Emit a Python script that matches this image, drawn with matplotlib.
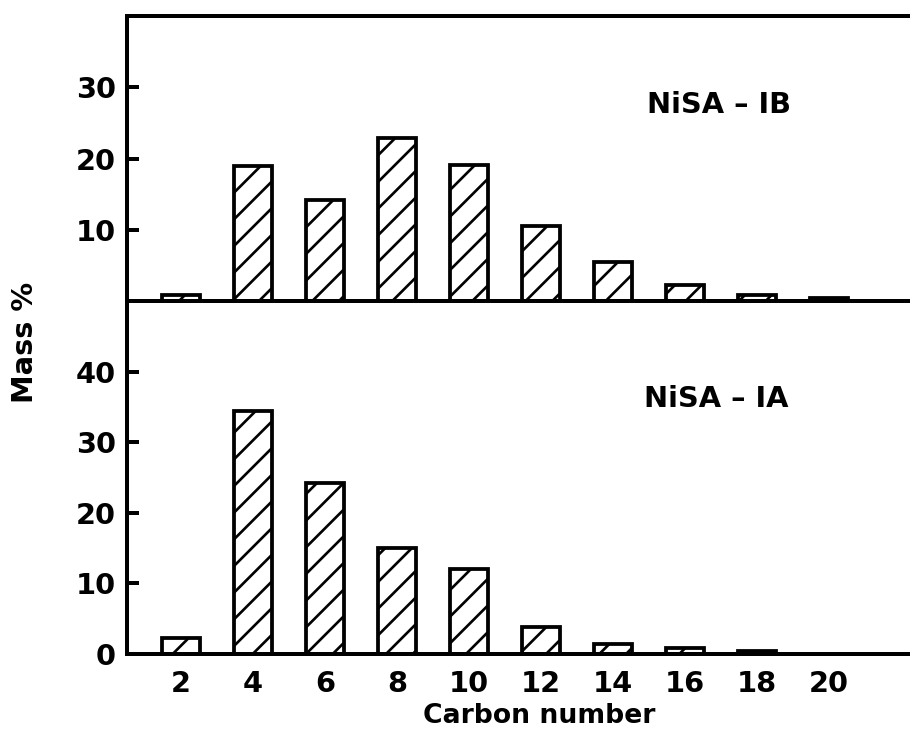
import matplotlib
matplotlib.use("Agg")
import matplotlib.pyplot as plt

carbon_number = [2, 4, 6, 8, 10, 12, 14, 16, 18, 20]
mass_ib = [0.8, 19.0, 14.2, 22.9, 19.1, 10.5, 5.5, 2.3, 0.9, 0.4]
mass_ia = [2.2, 34.4, 24.2, 15.0, 12.1, 3.8, 1.4, 0.8, 0.4, 0.0]
yticks_ib = [10, 20, 30]
yticks_ia = [0, 10, 20, 30, 40]

# dpi chosen so the hatch spacing comes out close to the scanned figure
DPI = 160
plt.rcParams['font.family'] = 'DejaVu Sans'
plt.rcParams['font.weight'] = 'bold'
plt.rcParams['hatch.linewidth'] = 1.2
plt.rcParams['hatch.color'] = 'black'

fig = plt.figure(figsize=(910 / DPI, 742 / DPI), dpi=DPI, facecolor='w')
ax_top = fig.add_axes([0.1396, 0.5943, 0.8604, 0.3841])
ax_bot = fig.add_axes([0.1396, 0.1186, 0.8604, 0.4757])
# keep the lower panel from painting over the divider line
ax_bot.patch.set_visible(False)


def style_axis(ax, values, yticks, ylim):
    ax.bar(carbon_number, values, width=1.05, facecolor='white', edgecolor='black',
           linewidth=1.7, hatch='//', zorder=2)
    ax.set_xlim(0.5, 22.25)
    ax.set_ylim(*ylim)
    ax.set_yticks(yticks)
    ax.spines['right'].set_visible(False)
    for s in ax.spines.values():
        s.set_linewidth(1.8)
        s.set_zorder(3)
    ax.tick_params(axis='y', direction='in', length=5.5, width=1.8, pad=5,
                   labelsize=13)
    ax.tick_params(axis='x', length=0, pad=7, labelsize=13)


style_axis(ax_top, mass_ib, yticks_ib, (0, 40))
style_axis(ax_bot, mass_ia, yticks_ia, (0, 50))

ax_top.set_xticks([])
ax_bot.spines['top'].set_visible(False)
ax_bot.set_xticks(carbon_number)
ax_bot.set_xticklabels([str(c) for c in carbon_number])

ax_top.text(0.756, 0.687, 'NiSA – IB', transform=ax_top.transAxes,
            ha='center', va='center', fontsize=13, fontweight='bold')
ax_bot.text(0.752, 0.722, 'NiSA – IA', transform=ax_bot.transAxes,
            ha='center', va='center', fontsize=13, fontweight='bold')

fig.text(0.593, 0.035, 'Carbon number', ha='center', va='center',
         fontsize=12, fontweight='bold')
fig.text(0.0275, 0.539, 'Mass %', ha='center', va='center', rotation=90,
         fontsize=13, fontweight='bold')

fig.savefig('out.png', dpi=DPI, facecolor='w')
plt.close(fig)
